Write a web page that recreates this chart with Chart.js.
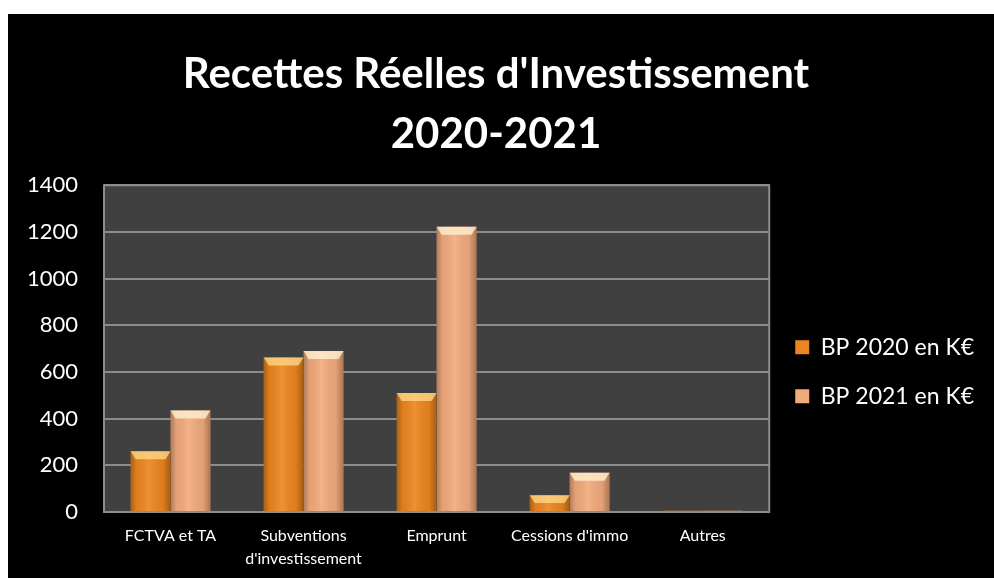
<!DOCTYPE html>
<html>
<head>
<meta charset="utf-8">
<script src="https://cdn.jsdelivr.net/npm/chart.js@4"></script>
<style>
    body { margin: 0; background: #fff; }
    #frame { position: absolute; left: 8px; top: 14px; width: 986px; height: 564px; background: #000; }
</style>
</head>
<body>
<div id="frame"><canvas id="recettesChart"></canvas></div>
<script>
// Recettes réelles d'investissement
const categories = ['FCTVA et TA', ['Subventions', "d'investissement"], 'Emprunt', "Cessions d'immo", 'Autres'];
const bp2020 = [260, 662, 510, 72, 5];
const bp2021 = [435, 690, 1222, 168, 5];
const yTicks = [0, 200, 400, 600, 800, 1000, 1200, 1400];

// plot background + frame
const plotFrame = {
    id: 'plotFrame',
    beforeDraw(chart) {
        const {ctx, chartArea: a} = chart;
        ctx.save();
        ctx.fillStyle = '#404040';
        ctx.fillRect(a.left, a.top, a.right - a.left, a.bottom - a.top);
        ctx.restore();
    },
    afterDraw(chart) {
        const {ctx, chartArea: a} = chart;
        ctx.save();
        ctx.strokeStyle = '#8c8c8c';
        ctx.lineWidth = 2;
        ctx.strokeRect(a.left, a.top, a.right - a.left, a.bottom - a.top);
        ctx.restore();
    }
};

// cylinder-ish shading over each bar
const barShade = {
    id: 'barShade',
    afterDatasetsDraw(chart) {
        const ctx = chart.ctx;
        chart.data.datasets.forEach((ds, i) => {
            chart.getDatasetMeta(i).data.forEach(bar => {
                const w = bar.width, l = bar.x - w / 2, h = bar.base - bar.y;
                if (h < 2) return;
                const g = ctx.createLinearGradient(l, 0, l + w, 0);
                g.addColorStop(0, 'rgba(0,0,0,0.28)');
                g.addColorStop(0.15, 'rgba(0,0,0,0.05)');
                g.addColorStop(0.45, 'rgba(255,255,255,0.10)');
                g.addColorStop(0.8, 'rgba(0,0,0,0.05)');
                g.addColorStop(1, 'rgba(0,0,0,0.30)');
                ctx.save();
                ctx.fillStyle = g;
                ctx.fillRect(l, bar.y, w, h);
                const cap = Math.min(8, h / 2);
                ctx.fillStyle = ds.capColor;
                ctx.beginPath();
                ctx.moveTo(l, bar.y);
                ctx.lineTo(l + w, bar.y);
                ctx.lineTo(l + w - 5, bar.y + cap);
                ctx.lineTo(l + 5, bar.y + cap);
                ctx.closePath();
                ctx.fill();
                ctx.restore();
            });
        });
    }
};

const data = {
    labels: categories,
    datasets: [{
        label: 'BP 2020 en K€',
        data: bp2020,
        backgroundColor: '#EC851F',
        capColor: 'rgba(255,220,140,0.75)',
        categoryPercentage: 0.6,
        barPercentage: 1.0
    }, {
        label: 'BP 2021 en K€',
        data: bp2021,
        backgroundColor: '#F2AA7C',
        capColor: 'rgba(255,240,210,0.8)',
        categoryPercentage: 0.6,
        barPercentage: 1.0
    }]
};

const config = {
    type: 'bar',
    data: data,
    options: {
        responsive: true,
        maintainAspectRatio: false,
        animation: false,
        layout: {
            padding: { left: 0, right: 10, top: 0, bottom: 0 }
        },
        plugins: {
            title: {
                display: true,
                text: ["Recettes Réelles d'Investissement", '2020-2021'],
                color: '#fff',
                font: { family: 'Lato', size: 42, weight: 'bold', lineHeight: 1.42 },
                padding: { top: 31, bottom: 21 }
            },
            legend: {
                position: 'right',
                title: {
                    display: true,
                    text: ' ',
                    font: { family: 'Lato', size: 22, lineHeight: 1.2 },
                    padding: { top: 113, bottom: 12 }
                },
                labels: {
                    color: '#fff',
                    font: { family: 'Lato', size: 23 },
                    boxWidth: 14,
                    boxHeight: 14,
                    padding: 26
                }
            },
            tooltip: { enabled: false }
        },
        scales: {
            y: {
                min: 0,
                max: 1400,
                afterBuildTicks(axis) {
                    axis.ticks = yTicks.map(v => ({ value: v }));
                },
                afterFit(axis) {
                    axis.width = 96;
                },
                grid: {
                    color: '#8c8c8c',
                    lineWidth: 2,
                    drawTicks: false
                },
                border: { display: false },
                ticks: {
                    color: '#fff',
                    font: { family: 'Lato', size: 22 },
                    padding: 26,
                    callback: v => String(v)
                }
            },
            x: {
                afterFit(axis) {
                    axis.height = 66;
                },
                grid: { display: false, drawTicks: false },
                border: { display: false },
                ticks: {
                    color: '#fff',
                    font: { family: 'Lato', size: 16, lineHeight: 1.45 },
                    padding: 12,
                    maxRotation: 0
                }
            }
        }
    },
    plugins: [plotFrame, barShade]
};

new Chart(document.getElementById('recettesChart').getContext('2d'), config);
</script>
</body>
</html>
